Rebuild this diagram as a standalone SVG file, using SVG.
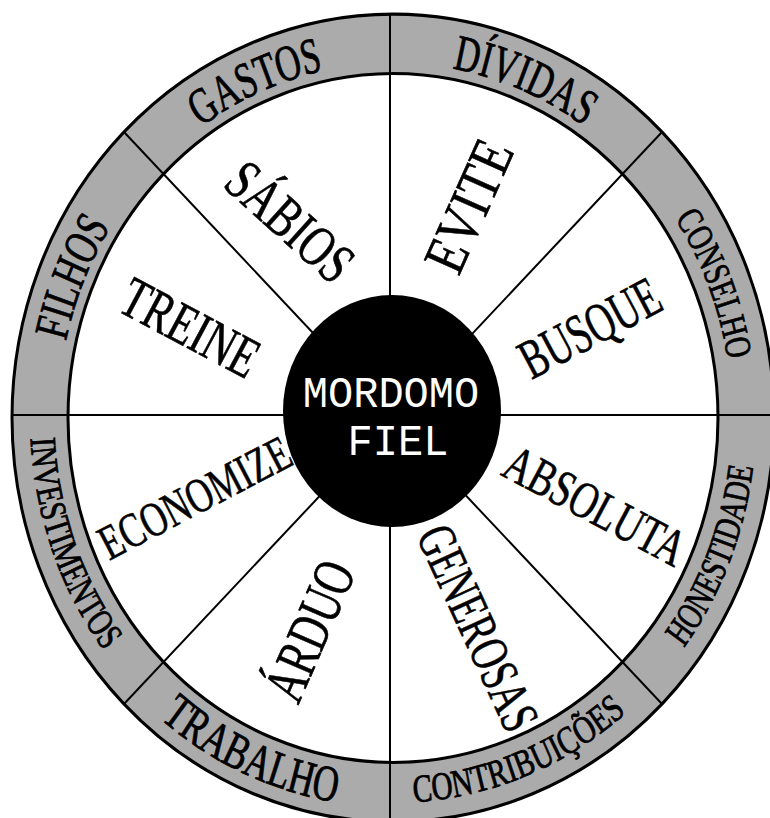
<svg xmlns="http://www.w3.org/2000/svg" width="770" height="818" viewBox="0 0 770 818">
<style>
.ring{font-family:"Liberation Serif","Times New Roman",serif;fill:#000;stroke:#000;stroke-width:0.8}
.word{font-family:"Liberation Serif","Times New Roman",serif;fill:#000;stroke:#000;stroke-width:0.6;text-anchor:middle}
.div{stroke:#000;stroke-width:2;fill:none}
.ctr{font-family:"Liberation Mono","Courier New",monospace;fill:#fff;text-anchor:middle;font-size:42px}
</style>
<defs>
<path id="pGastos" d="M -192.2 -274.4 A 335 335 0 0 1 -29.2 -333.7"/>
<path id="pDividas" d="M 59.3 -329.7 A 335 335 0 0 1 224.2 -248.9"/>
<path id="pConselho" d="M 282.0 -188.1 A 339 339 0 0 1 338.8 -11.8"/>
<path id="pFilhos" d="M -327.1 -72.5 A 335 335 0 0 1 -249.0 -224.2"/>
<path id="pHonest" d="M 291.0 217.0 A 363 363 0 0 0 362.8 12.7"/>
<path id="pContrib" d="M 20.9 362.4 A 363 363 0 0 0 252.2 261.1"/>
<path id="pTrabalho" d="M -232.9 283.6 A 367 367 0 0 0 -19.2 366.5"/>
<path id="pInvest" d="M -362.5 19.0 A 363 363 0 0 0 -269.8 242.9"/>
</defs>
<rect width="770" height="818" fill="#fff"/>
<g id="wheel" transform="translate(393,418) scale(1,1.06)">
  <circle id="ring" r="381" fill="#ababab" stroke="#000" stroke-width="3"/>
  <circle id="inner" r="325" fill="#fff" stroke="#000" stroke-width="3"/>
</g>
<g id="connectors">
  <line class="div" x1="390" y1="14" x2="390" y2="818"/>
  <line class="div" x1="13" y1="415" x2="777" y2="415"/>
  <line class="div" x1="124" y1="132" x2="662" y2="704"/>
  <line class="div" x1="662" y1="132" x2="124" y2="704"/>
</g>
<g id="center">
  <ellipse cx="392" cy="411" rx="109" ry="116" fill="#000"/>
  <text class="ctr" transform="translate(391,407) scale(1,1.06)">MORDOMO</text>
  <text class="ctr" transform="translate(398,455) scale(1,1.06)">FIEL</text>
</g>
<g transform="translate(393,418) scale(1,1.06)">
  <g id="seg-gastos"><text class="ring" font-size="48"><textPath href="#pGastos" textLength="134.5" lengthAdjust="spacingAndGlyphs">GASTOS</textPath></text></g>
  <g id="seg-dividas"><text class="ring" font-size="48"><textPath href="#pDividas" textLength="143.8" lengthAdjust="spacingAndGlyphs">DÍVIDAS</textPath></text></g>
  <g id="seg-conselho"><text class="ring" font-size="37"><textPath href="#pConselho" textLength="144.4" lengthAdjust="spacingAndGlyphs">CONSELHO</textPath></text></g>
  <g id="seg-filhos"><text class="ring" font-size="48"><textPath href="#pFilhos" textLength="116.9" lengthAdjust="spacingAndGlyphs">FILHOS</textPath></text></g>
  <g id="seg-honestidade"><text class="ring" font-size="37"><textPath href="#pHonest" textLength="186.3" lengthAdjust="spacingAndGlyphs">HONESTIDADE</textPath></text></g>
  <g id="seg-contribuicoes"><text class="ring" font-size="37"><textPath href="#pContrib" textLength="232.5" lengthAdjust="spacingAndGlyphs">CONTRIBUIÇÕES</textPath></text></g>
  <g id="seg-trabalho"><text class="ring" font-size="48"><textPath href="#pTrabalho" textLength="194.7" lengthAdjust="spacingAndGlyphs">TRABALHO</textPath></text></g>
  <g id="seg-investimentos"><text class="ring" font-size="37"><textPath href="#pInvest" textLength="217.3" lengthAdjust="spacingAndGlyphs">INVESTIMENTOS</textPath></text></g>
</g>
<g id="words">
  <g id="w-sabios" transform="translate(290,222) rotate(42)"><text class="word" font-size="58" y="19" textLength="150" lengthAdjust="spacingAndGlyphs">SÁBIOS</text></g>
  <g id="w-evite" transform="translate(469,206) rotate(-66)"><text class="word" font-size="59" y="19.5" textLength="138" lengthAdjust="spacingAndGlyphs">EVITE</text></g>
  <g id="w-treine" transform="translate(190,328) rotate(28)"><text class="word" font-size="58" y="19" textLength="148" lengthAdjust="spacingAndGlyphs">TREINE</text></g>
  <g id="w-busque" transform="translate(590,328) rotate(-28)"><text class="word" font-size="56" y="18.5" textLength="152" lengthAdjust="spacingAndGlyphs">BUSQUE</text></g>
  <g id="w-economize" transform="translate(195,498) rotate(-27.5)"><text class="word" font-size="49" y="16" textLength="210" lengthAdjust="spacingAndGlyphs">ECONOMIZE</text></g>
  <g id="w-absoluta" transform="translate(595,506) rotate(28)"><text class="word" font-size="52" y="17" textLength="198" lengthAdjust="spacingAndGlyphs">ABSOLUTA</text></g>
  <g id="w-arduo" transform="translate(310,631) rotate(-66.5)"><text class="word" font-size="58" y="19" textLength="146" lengthAdjust="spacingAndGlyphs">ÁRDUO</text></g>
  <g id="w-generosas" transform="translate(478,628) rotate(65.4)"><text class="word" font-size="54" y="18" textLength="220" lengthAdjust="spacingAndGlyphs">GENEROSAS</text></g>
</g>
</svg>
